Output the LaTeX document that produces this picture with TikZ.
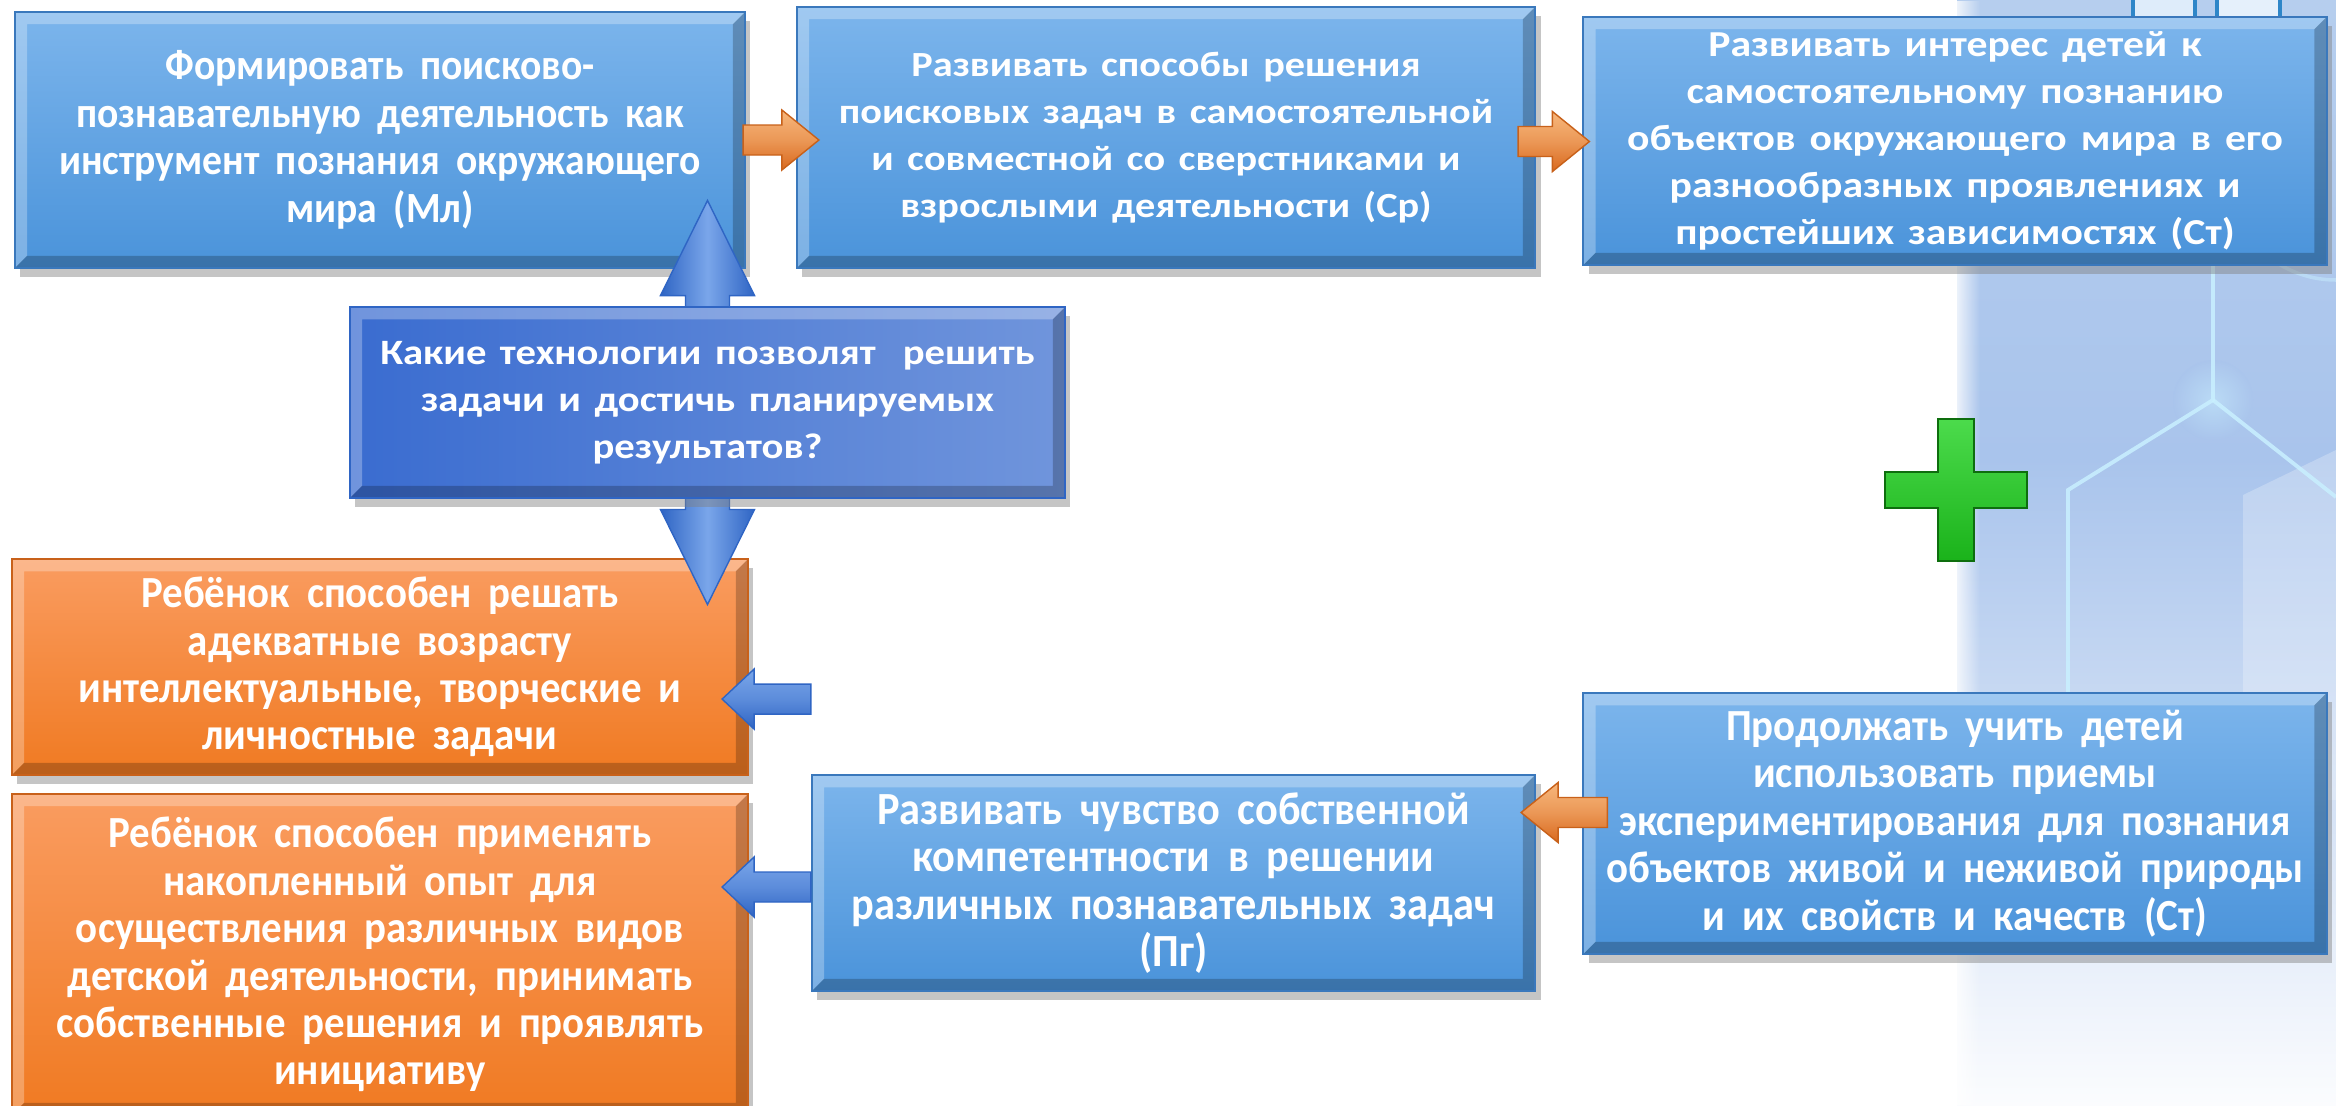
\documentclass[tikz,border=0pt]{standalone}
\usepackage{fontspec}
\setmainfont{Carlito}
\newfontfamily\condf{Carlito}[FakeStretch=0.92]
\newfontfamily\widef{Carlito}[FakeStretch=1.14]
\usetikzlibrary{calc,shadows,fadings}
\newcommand{\widesp}{\spaceskip=0.38em plus 0.1em minus 0.05em\relax}
\definecolor{bxtop}{HTML}{7CB5EC}
\definecolor{bxbot}{HTML}{4A93DA}
\definecolor{bxline}{HTML}{3A78BC}
\definecolor{qleft}{HTML}{3A6CD0}
\definecolor{qright}{HTML}{7095DC}
\definecolor{ortop}{HTML}{FA9C60}
\definecolor{orbot}{HTML}{F07A22}
\definecolor{orline}{HTML}{C8611A}
\definecolor{oarrD}{HTML}{D9691E}
\definecolor{oarrL}{HTML}{F7B77C}
\definecolor{barrD}{HTML}{2F65C4}
\definecolor{barrL}{HTML}{7AA6EA}
\definecolor{plusG}{HTML}{1FD21F}
\definecolor{plusD}{HTML}{0E6E0E}
\definecolor{bgtop}{HTML}{B6CEEE}
\definecolor{bgmid}{HTML}{A9C4EC}
\definecolor{bgbot}{HTML}{FBFCFE}
\definecolor{hexl}{HTML}{C9F0FF}
\definecolor{iconl}{HTML}{2E86C8}
\tikzfading[name=fadeR, left color=transparent!0, right color=transparent!100]
\tikzset{
  bevel/.style={path picture={
    \fill[white,opacity=.28] (path picture bounding box.south west) -- (path picture bounding box.north west) -- (path picture bounding box.north east) -- ([shift={(-3.5pt,-3.5pt)}]path picture bounding box.north east) -- ([shift={(3.5pt,-3.5pt)}]path picture bounding box.north west) -- ([shift={(3.5pt,3.5pt)}]path picture bounding box.south west) -- cycle;
    \fill[black,opacity=.22] (path picture bounding box.south west) -- (path picture bounding box.south east) -- (path picture bounding box.north east) -- ([shift={(-3.5pt,-3.5pt)}]path picture bounding box.north east) -- ([shift={(-3.5pt,3.5pt)}]path picture bounding box.south east) -- ([shift={(3.5pt,3.5pt)}]path picture bounding box.south west) -- cycle;
  }},
  boxbase/.style={rectangle, inner sep=0pt, align=center, text=white, line width=0.5pt, bevel,
    drop shadow={shadow xshift=1.5pt, shadow yshift=-2.5pt, opacity=.45}},
  bluebox/.style={boxbase, top color=bxtop, bottom color=bxbot, draw=bxline},
  orbox/.style={boxbase, top color=ortop, bottom color=orbot, draw=orline},
  qbox/.style={boxbase, left color=qleft, right color=qright, draw=barrD},
  condtext/.style={font={\condf\bfseries\fontsize{#1}{13.5}\selectfont\widesp}},
  widetext/.style={font={\widef\bfseries\fontsize{#1}{13.4}\selectfont\widesp}},
  oarrow/.style={top color=oarrL, bottom color=oarrD, middle color=oarrL!60!oarrD, draw=orline, line width=0.4pt},
  barrow/.style={top color=barrL, bottom color=barrD, middle color=barrL!60!barrD, draw=barrD, line width=0.4pt},
  vbarrow/.style={left color=barrD, right color=barrD, middle color=barrL, draw=barrD, line width=0.4pt},
}
\newcommand{\fatarrow}[6]{%
  \coordinate (fa-s) at #2;
  \coordinate (fa-e) at #3;
  \coordinate (fa-h) at ($(fa-e)!#6!(fa-s)$);
  \path[#1] ($(fa-s)!#4!90:(fa-e)$) -- ($(fa-h)!#4!-90:(fa-s)$) -- ($(fa-h)!#5!-90:(fa-s)$) -- (fa-e) -- ($(fa-h)!#5!90:(fa-s)$) -- ($(fa-h)!#4!90:(fa-s)$) -- ($(fa-s)!#4!-90:(fa-e)$) -- cycle;
}
\newcommand{\dblarrow}[6]{%
  \coordinate (da-s) at #2;
  \coordinate (da-e) at #3;
  \coordinate (da-h1) at ($(da-s)!#6!(da-e)$);
  \coordinate (da-h2) at ($(da-e)!#6!(da-s)$);
  \path[#1] (da-s) -- ($(da-h1)!#5!90:(da-e)$) -- ($(da-h1)!#4!90:(da-e)$) -- ($(da-h2)!#4!-90:(da-s)$) -- ($(da-h2)!#5!-90:(da-s)$) -- (da-e) -- ($(da-h2)!#5!90:(da-s)$) -- ($(da-h2)!#4!90:(da-s)$) -- ($(da-h1)!#4!-90:(da-e)$) -- ($(da-h1)!#5!-90:(da-e)$) -- cycle;
}
\begin{document}
\begin{tikzpicture}[x=0.01cm,y=-0.01cm]
\useasboundingbox (0,0) rectangle (2336,1105);
\fill[white] (0,0) rectangle (2336,1105);
% background panel
\shade[top color=bgtop, bottom color=bgmid] (1957,0) rectangle (2336,460);
\shade[top color=bgmid, bottom color=bgbot] (1957,459) rectangle (2336,1105);
\fill[white, opacity=.25] (2243,495) -- (2336,450) -- (2336,800) -- (2243,800) -- cycle;
\fill[white, path fading=fadeR] (1950,0) rectangle (1980,1105);
\shade[inner color=hexl, outer color=bgmid, opacity=.5] (2213,400) circle[radius=40];
\draw[hexl, line width=1.1pt, opacity=.85] (2213,250) -- (2213,400) -- (2068,490) -- (2068,700);
\draw[hexl, line width=1.1pt, opacity=.85] (2213,400) -- (2336,497);
\draw[hexl, line width=1pt, opacity=.45] (2336,280) arc[start angle=90, end angle=210, radius=110];
% small icons at top right
\draw[iconl, line width=1pt, fill=bxtop!25] (2133,-10) rectangle (2195,25);
\draw[iconl, line width=1pt, fill=bxtop!20] (2217,-10) rectangle (2280,25);

% boxes
\node[bluebox, condtext=12.25, minimum width=7.3cm, minimum height=2.56cm] (m1) at (380,140)
  {Формировать поисково-\\познавательную деятельность как\\инструмент познания окружающего\\мира (Мл)};
\node[bluebox, widetext=10.05, minimum width=7.38cm, minimum height=2.61cm] (m2) at (1166,137.5)
  {Развивать способы решения\\поисковых задач в самостоятельной\\и совместной со сверстниками и\\взрослыми деятельности (Ср)};
\node[bluebox, widetext=10.4, minimum width=7.43cm, minimum height=2.48cm] (m3) at (1955,141)
  {Развивать интерес детей к\\самостоятельному познанию\\объектов окружающего мира в его\\разнообразных проявлениях и\\простейших зависимостях (Ст)};
\node[orbox, condtext=12.65, minimum width=7.36cm, minimum height=2.16cm] (r1) at (380,667)
  {Ребёнок способен решать\\адекватные возрасту\\интеллектуальные, творческие и\\личностные задачи};
\node[orbox, condtext=12.65, minimum width=7.36cm, minimum height=3.21cm] (r2) at (380,954.5)
  {Ребёнок способен применять\\накопленный опыт для\\осуществления различных видов\\детской деятельности, принимать\\собственные решения и проявлять\\инициативу};
\node[bluebox, condtext=13.1, minimum width=7.23cm, minimum height=2.16cm] (pg) at (1173.5,883)
  {Развивать чувство собственной\\компетентности в решении\\различных познавательных задач\\(Пг)};
\node[bluebox, condtext=12.65, minimum width=7.43cm, minimum height=2.61cm] (st) at (1955,823.5)
  {Продолжать учить детей\\использовать приемы\\экспериментирования для познания\\объектов живой и неживой природы\\и их свойств и качеств (Ст)};

% question box and double arrow
\path (707.5,402.5) coordinate (qc);
\dblarrow{vbarrow}{($(qc)+(0,-202)$)}{($(qc)+(0,202)$)}{0.22cm}{0.47cm}{0.95cm}
\node[qbox, widetext=10.15, minimum width=7.15cm, minimum height=1.91cm] (q) at (qc)
  {Какие технологии позволят~ решить\\задачи и достичь планируемых\\результатов?};

% connectors
\fatarrow{oarrow}{($(m1.east)+(-3,0)$)}{($(m1.east -| m2.west)+(23,0)$)}{0.15cm}{0.30cm}{0.37cm}
\fatarrow{oarrow}{($(m2.east)+(-18,4)$)}{($(m2.east -| m3.west)+(7,4)$)}{0.15cm}{0.30cm}{0.37cm}
\fatarrow{oarrow}{($(st.west)+(25,-11)$)}{($(st.west -| pg.east)+(-15,-11)$)}{0.15cm}{0.30cm}{0.37cm}
\fatarrow{barrow}{($(pg.north west)+(0,-75)$)}{($(pg.north west -| r1.east)+(-27,-75)$)}{0.15cm}{0.30cm}{0.32cm}
\fatarrow{barrow}{($(pg.west)+(0,4)$)}{($(pg.west -| r1.east)+(-27,4)$)}{0.15cm}{0.30cm}{0.32cm}

% plus sign
\path[top color=plusG!80!white, bottom color=plusG!85!black, draw=plusD, line width=0.8pt]
  (1938,419) -- (1974,419) -- (1974,472) -- (2027,472) -- (2027,508) -- (1974,508) -- (1974,561)
  -- (1938,561) -- (1938,508) -- (1885,508) -- (1885,472) -- (1938,472) -- cycle;
\end{tikzpicture}
\end{document}
